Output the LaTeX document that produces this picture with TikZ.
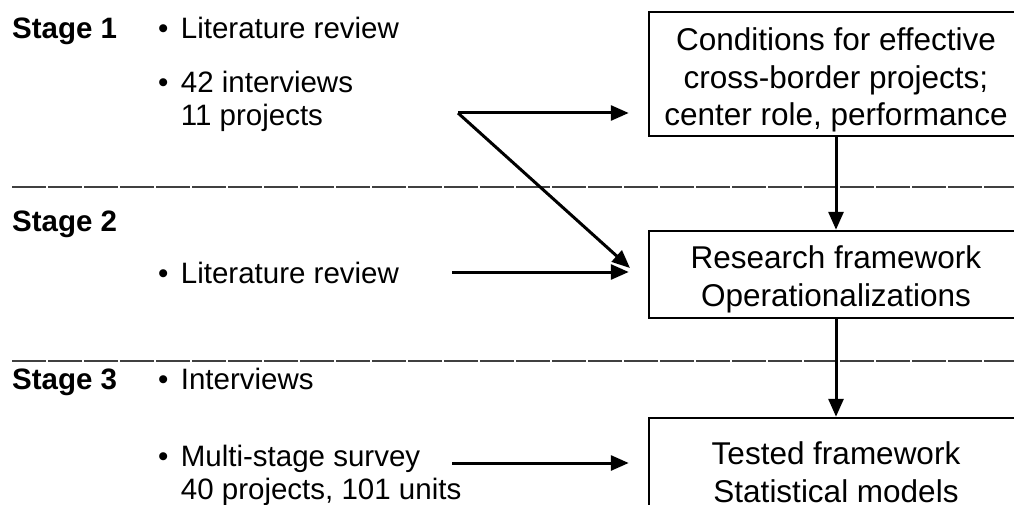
\documentclass[tikz,border=0pt]{standalone}
\usepackage{fontspec}
\setmainfont{Liberation Sans}
\usetikzlibrary{arrows.meta}

\begin{document}
\begin{tikzpicture}[x=1pt,y=-1pt]
    \tikzstyle{stagebox}=[rectangle, draw, line width=2.5pt, minimum width=374pt,
    align=center, inner sep=0pt, font=\fontsize{31.5}{37.5}\selectfont]
    \tikzstyle{itemtext}=[anchor=base west, inner sep=0pt, align=left,
    font=\fontsize{29.5}{33}\selectfont]
    \tikzstyle{flow}=[line width=3pt, -{Triangle[length=18pt,width=15pt]}]
    \tikzstyle{divider}=[line width=1.3pt, dash pattern=on 34pt off 2pt, black!75]
    \useasboundingbox (0,0) rectangle (1014,505);

    % stage labels and inputs
    \node[itemtext, font=\bfseries\fontsize{29.5}{33}\selectfont](st1) at (12,39){Stage 1};
    \node[itemtext](lit1) at (158,39){\textbullet\hspace{0.42em}Literature review};
    \node[itemtext](int1) at (158,126){\textbullet\hspace{0.42em}42 interviews\\
    \phantom{\textbullet\hspace{0.42em}}11 projects};

    \node[itemtext, font=\bfseries\fontsize{29.5}{33}\selectfont](st2) at (12,231){Stage 2};
    \node[itemtext](lit2) at (158,283){\textbullet\hspace{0.42em}Literature review};

    \node[itemtext, font=\bfseries\fontsize{29.5}{33}\selectfont](st3) at (12,389){Stage 3};
    \node[itemtext](int3) at (158,389){\textbullet\hspace{0.42em}Interviews};
    \node[itemtext](srv3) at (158,499){\textbullet\hspace{0.42em}Multi-stage survey\\
    \phantom{\textbullet\hspace{0.42em}}40 projects, 101 units};

    \draw[divider] (12,187) -- (1014,187);
    \draw[divider] (12,361) -- (1014,361);

    % outcome boxes
    \node[stagebox, minimum height=124pt](res1) at (836,74){\rule{0pt}{35pt}Conditions for effective\\
    cross-border projects;\\center role, performance};
    \node[stagebox, minimum height=87pt](res2) at (836,274.5){\rule{0pt}{33pt}Research framework\\
    Operationalizations};
    \node[stagebox, minimum height=108pt](res3) at (836,472){Tested framework\\
    Statistical models};

    \coordinate (from1) at (458,113);
    \coordinate (from2) at (452,272);
    \coordinate (from3) at (452,463);
    \coordinate (to12) at (630,268);

    \draw[flow, shorten >=19pt] (from1) -- (from1 -| res1.west);
    \draw[flow] (from1) -- (to12);
    \draw[flow, shorten >=19pt] (from2) -- (from2 -| res2.west);
    \draw[flow, shorten >=19pt] (from3) -- (from3 -| res3.west);
    \draw[flow] (res1) -- (res2);
    \draw[flow] (res2) -- (res3);
\end{tikzpicture}
\end{document}
